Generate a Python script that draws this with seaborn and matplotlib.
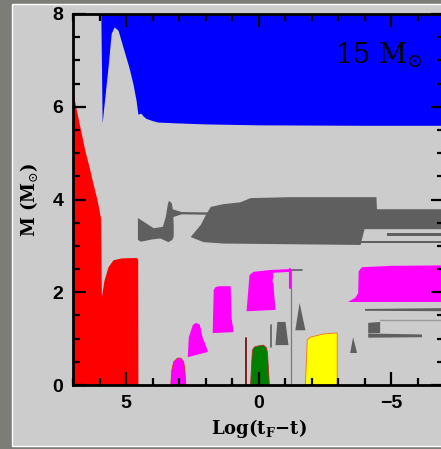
import numpy as np
import pandas as pd
import seaborn as sns
import matplotlib.pyplot as plt
from matplotlib.patches import Rectangle
from matplotlib.ticker import MultipleLocator

# ---- data (x = Log(tF - t), m = mass coordinate) ----
# convective envelope (blue), lower boundary; filled up to M = 8
env_x = [5.95, 5.90, 5.80, 5.68, 5.56, 5.45, 5.30, 5.08, 4.89, 4.74, 4.62, 4.55,
         4.50, 4.44, 4.35, 4.25, 4.0, 3.8, 3.0, 2.0, 0.0, -4.0, -7.3]
env_m = [8.0, 5.65, 6.20, 6.85, 7.58, 7.72, 7.65, 7.22, 6.85, 6.50, 6.14, 5.84,
         5.85, 5.86, 5.80, 5.75, 5.70, 5.67, 5.65, 5.63, 5.61, 5.60, 5.60]

# convective core (red), upper boundary
core_x = [7.3, 7.0, 6.85, 6.69, 6.55, 6.39, 6.25, 6.09, 5.96, 5.93, 5.83, 5.68,
          5.49, 5.19, 4.62, 4.56, 4.55]
core_m = [7.1, 6.29, 5.87, 5.43, 5.05, 4.70, 4.35, 3.99, 3.60, 1.90, 2.26, 2.55,
          2.70, 2.74, 2.75, 2.72, 0.0]

# shell convection (dark grey)
band_x = [1.80, 1.32, 0.68, 0.30, -1.2, -4.45, -4.47, -7.3, -7.3, -4.0, -3.85,
          1.32, 2.07, 2.56, 2.18, 1.99]
band_m = [3.84, 3.90, 3.94, 4.03, 4.05, 4.05, 3.79, 3.79, 3.36, 3.36, 3.02,
          3.05, 3.08, 3.19, 3.45, 3.66]
blob_x = [4.55, 4.25, 3.95, 3.61, 3.50, 3.42, 3.38, 3.27, 3.22, 3.20, 3.20,
          3.25, 3.40, 3.70, 4.00, 4.44, 4.55]
blob_m = [3.60, 3.49, 3.38, 3.41, 3.62, 3.90, 3.97, 3.92, 3.72, 3.45, 3.20,
          3.13, 3.08, 3.16, 3.14, 3.09, 3.13]
bridge_x = [3.30, 2.90, 1.78, 1.78, 2.90, 3.22]
bridge_m = [3.80, 3.73, 3.72, 3.67, 3.68, 3.62]
stripe1_x = [-4.85, -7.3, -7.3, -4.85]
stripe1_m = [3.22, 3.22, 3.28, 3.28]
stripe2_x = [-3.83, -7.3, -7.3, -3.83]
stripe2_m = [3.07, 3.07, 3.11, 3.11]
stripe3_x = [-4.02, -7.3, -7.3, -4.02]
stripe3_m = [1.60, 1.59, 1.66, 1.64]
block_x = [-4.14, -4.59, -4.59, -4.14]
block_m = [1.12, 1.12, 1.36, 1.34]
bar_x = [-4.14, -6.17, -6.17, -4.14]
bar_m = [1.02, 1.03, 1.09, 1.11]
tri1_x = [-3.46, -3.57, -3.72]
tri1_m = [0.69, 1.03, 0.69]
trap_x = [-0.64, -0.71, -1.02, -1.13]
trap_m = [0.86, 1.36, 1.36, 0.86]
tri2_x = [-1.39, -1.55, -1.77]
tri2_m = [1.18, 1.77, 1.18]

# burning shells (magenta)
mag1_x = [3.31, 3.27, 3.20, 3.05, 2.93, 2.82, 2.78, 2.74]
mag1_m = [0.0, 0.32, 0.50, 0.58, 0.58, 0.50, 0.32, 0.0]
mag2_x = [2.67, 2.63, 2.48, 2.37, 2.22, 2.11, 1.92, 1.92]
mag2_m = [0.60, 1.03, 1.29, 1.34, 1.31, 1.03, 0.75, 0.71]
mag3_x = [1.73, 1.69, 1.62, 1.50, 1.05, 1.02, 0.94]
mag3_m = [1.12, 2.05, 2.11, 2.13, 2.13, 1.47, 1.14]
mag4_x = [0.45, 0.34, 0.19, -0.45, -1.20, -1.20, -0.56, -0.53, -0.56, -0.64]
mag4_m = [1.59, 2.37, 2.44, 2.48, 2.50, 2.44, 2.42, 2.22, 2.20, 1.62]
mag5_x = [-3.38, -3.65, -3.76, -3.78, -3.90, -5.0, -7.3, -7.3]
mag5_m = [1.79, 1.88, 1.98, 2.45, 2.54, 2.57, 2.58, 1.79]

# central burning (green, yellow)
green_x = [0.30, 0.23, 0.15, 0.04, -0.19, -0.30, -0.34, -0.41]
green_m = [0.0, 0.75, 0.82, 0.84, 0.86, 0.80, 0.69, 0.0]
yellow_x = [-1.77, -1.84, -1.95, -2.44, -2.89, -2.97, -2.97]
yellow_m = [0.0, 0.97, 1.03, 1.10, 1.12, 1.12, 0.0]

# thin features
spike_x = [0.49, 0.49]
spike_m = [0.0, 1.01]
vline1_x = [-1.22, -1.22]
vline1_m = [0.04, 2.48]
vline2_x = [-0.49, -0.49]
vline2_m = [0.82, 1.29]
grey_tail_x = [-1.22, -1.65]
grey_tail_m = [2.47, 2.47]
light_line_x = [-4.59, -7.3]
light_line_m = [1.40, 1.40]
mag_line_x = [-1.20, -1.20]
mag_line_m = [2.50, 2.10]

BG = "#cccccc"
DGREY = "#5f5f5f"

sns.set_style("ticks")
plt.rcParams['font.family'] = ['Liberation Sans', 'DejaVu Sans']
plt.rcParams['mathtext.fontset'] = 'dejavuserif'
for key in ["text.color", "axes.labelcolor", "xtick.color", "ytick.color",
            "axes.edgecolor"]:
    plt.rcParams[key] = "black"

fig = plt.figure(figsize=(4.41, 4.49), dpi=100, facecolor="#7c7d79")
fig.add_artist(Rectangle((11.5 / 441, 3.5 / 449), 440 / 441, 442 / 449,
                         transform=fig.transFigure, facecolor=BG,
                         edgecolor="white", linewidth=1.0, zorder=0))

ax = fig.add_axes([73 / 441, 64 / 449, 371 / 441, 371 / 449])
ax.set_facecolor(BG)
ax.set_axisbelow(False)

ax.fill_between(env_x, env_m, 8, color="#0000ff", lw=0)
ax.fill_between(core_x, 0, core_m, color="#ff0000", lw=0)

for xs, ms in [(band_x, band_m), (blob_x, blob_m), (bridge_x, bridge_m),
               (stripe1_x, stripe1_m), (stripe2_x, stripe2_m),
               (stripe3_x, stripe3_m), (block_x, block_m), (bar_x, bar_m),
               (tri1_x, tri1_m), (trap_x, trap_m), (tri2_x, tri2_m)]:
    ax.fill(xs, ms, color=DGREY, lw=0)

for xs, ms in [(mag2_x, mag2_m), (mag3_x, mag3_m), (mag4_x, mag4_m),
               (mag5_x, mag5_m)]:
    ax.fill(xs, ms, color="#ff00ff", lw=0)
ax.fill(mag1_x, mag1_m, facecolor="#ff00ff", edgecolor="#d03030", lw=0.6)
ax.fill(green_x, green_m, facecolor="#008000", edgecolor="#b03020", lw=0.6)
ax.fill(yellow_x, yellow_m, facecolor="#ffff00", edgecolor="#f07020", lw=0.6)

sns.lineplot(x=spike_x, y=spike_m, sort=False, estimator=None, color="#7a1010", lw=1.3, ax=ax)
sns.lineplot(x=vline1_x, y=vline1_m, sort=False, estimator=None, color="#7a7a7a", lw=0.9, ax=ax)
sns.lineplot(x=vline2_x, y=vline2_m, sort=False, estimator=None, color=DGREY, lw=1.2, ax=ax)
sns.lineplot(x=grey_tail_x, y=grey_tail_m, sort=False, estimator=None, color=DGREY, lw=1.2, ax=ax)
sns.lineplot(x=light_line_x, y=light_line_m, sort=False, estimator=None, color="#9a9a9a", lw=1.0, ax=ax)
sns.lineplot(x=mag_line_x, y=mag_line_m, sort=False, estimator=None, color="#ff00ff", lw=1.5, ax=ax)

ax.set_xlim(7, -7)
ax.set_ylim(0, 8)
ax.xaxis.set_major_locator(MultipleLocator(5))
ax.xaxis.set_minor_locator(MultipleLocator(1))
ax.yaxis.set_major_locator(MultipleLocator(2))
ax.yaxis.set_minor_locator(MultipleLocator(0.5))
ax.tick_params(which="both", direction="in", top=True, right=True,
               color="black", labelcolor="black", width=1.6)
ax.tick_params(which="major", length=9.5, pad=7, labelsize=14)
ax.tick_params(which="minor", length=5)
for lab in ax.get_xticklabels() + ax.get_yticklabels():
    lab.set_fontweight("bold")
for side in ["left", "bottom", "top", "right"]:
    ax.spines[side].set_linewidth(2.0)
    ax.spines[side].set_color("black")

ax.set_xlabel(r"Log(t$_{\mathbf{F}}$−t)", fontfamily="DejaVu Serif",
              fontweight="bold", fontsize=13, labelpad=4, color="black")
ax.set_ylabel(r"M (M$_{\odot}$)", fontfamily="DejaVu Serif",
              fontweight="bold", fontsize=13, labelpad=9, color="black")
ax.text(-2.9, 6.94, r"15 M$_{\odot}$", fontfamily="DejaVu Serif",
        fontsize=19.5, ha="left", va="baseline", color="black")

fig.savefig("out.png", dpi=100, facecolor=fig.get_facecolor())
